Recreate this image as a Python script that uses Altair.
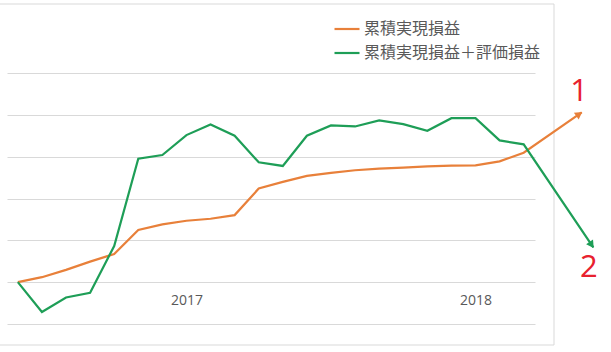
import altair as alt
import pandas as pd
import numpy as np

# ---- data ----
months = ["2016-06", "2016-07", "2016-08", "2016-09", "2016-10", "2016-11", "2016-12",
          "2017-01", "2017-02", "2017-03", "2017-04", "2017-05", "2017-06", "2017-07",
          "2017-08", "2017-09", "2017-10", "2017-11", "2017-12", "2018-01", "2018-02", "2018-03"]
realized = [0, 0.119, 0.294, 0.492, 0.675, 1.246, 1.381, 1.468, 1.516, 1.603, 2.238,
            2.397, 2.54, 2.611, 2.675, 2.714, 2.738, 2.77, 2.786, 2.794, 2.889, 3.095]
total = [0, -0.714, -0.365, -0.254, 0.865, 2.952, 3.04, 3.516, 3.77, 3.5, 2.865,
         2.778, 3.5, 3.746, 3.722, 3.865, 3.778, 3.619, 3.92, 3.92, 3.389, 3.294]
series_names = ["累積実現損益", "累積実現損益＋評価損益"]
series_colors = ["#E8803A", "#1E9E57"]
# arrow tips (continuation of each line beyond the last month), in month-index / value units
arrow_tip_x = [23.41, 23.89]
arrow_tip_y = [4.06, 0.83]
# callout numbers
callout_text = ["1", "2"]
callout_x = [23.3, 23.71]
callout_y = [4.54, 0.33]
year_ticks = [7, 19]
year_labels = ["2017", "2018"]

# ---- layout ----
W, H = 528, 251
XDOM = [-0.45, 21.47]
YDOM = [-1, 5]
px_x = W / (XDOM[1] - XDOM[0])
px_y = H / (YDOM[1] - YDOM[0])

rows = []
for name, vals, tx, ty in zip(series_names, [realized, total], arrow_tip_x, arrow_tip_y):
    for i, v in enumerate(vals):
        rows.append({"idx": i, "month": months[i], "value": v, "series": name})
    rows.append({"idx": tx, "month": "", "value": ty, "series": name})
df = pd.DataFrame(rows)

heads = []
for name, vals, tx, ty in zip(series_names, [realized, total], arrow_tip_x, arrow_tip_y):
    x0, y0 = len(vals) - 1, vals[-1]
    dx = (tx - x0) * px_x
    dy = -(ty - y0) * px_y
    L = np.hypot(dx, dy)
    ang = np.degrees(np.arctan2(dx, -dy)) % 360
    back = 3.0
    hx = tx - (dx / L * back) / px_x
    hy = ty + (dy / L * back) / px_y
    heads.append({"idx": hx, "value": hy, "series": name, "ang": float(ang)})
hdf = pd.DataFrame(heads)

cdf = pd.DataFrame({"idx": callout_x, "value": callout_y, "t": callout_text})

label_expr = " : ".join(
    [f"datum.value == {v} ? '{l}'" for v, l in zip(year_ticks, year_labels)]) + " : ''"

xenc = alt.X("idx:Q", scale=alt.Scale(domain=XDOM, nice=False, zero=False),
             axis=alt.Axis(values=year_ticks, labelExpr=label_expr, title=None,
                           grid=False, ticks=False, tickSize=0, domain=False,
                           offset=-px_y, labelPadding=11, labelFontSize=14,
                           labelColor="#595959", labelFont="Open Sans"))
yenc = alt.Y("value:Q", scale=alt.Scale(domain=YDOM, nice=False, zero=False),
             axis=alt.Axis(values=list(range(-1, 6)), labels=False, ticks=False,
                           domain=False, title=None, grid=True, gridColor="#D9D9D9",
                           gridWidth=1))
color = alt.Color("series:N", scale=alt.Scale(domain=series_names, range=series_colors),
                  legend=alt.Legend(title=None, orient="none", legendX=326, legendY=-58,
                                    symbolType="stroke", symbolSize=625,
                                    symbolStrokeWidth=2.2, labelFontSize=16,
                                    labelFont="Noto Sans CJK JP", labelColor="#595959",
                                    labelOffset=3, rowPadding=2, padding=0,
                                    labelLimit=400))

frame = alt.Chart(pd.DataFrame({"a": [0]})).mark_rect(
    fill=None, stroke="#D9D9D9", strokeWidth=1, clip=False).encode(
    x=alt.value(-10), x2=alt.value(547), y=alt.value(-69), y2=alt.value(272))

lines = alt.Chart(df).mark_line(strokeWidth=2.2, clip=False).encode(
    x=xenc, y=yenc, color=color, order="idx:Q")

arrowheads = alt.Chart(hdf).mark_point(shape="triangle-up", filled=True, size=70,
                                       opacity=1, clip=False).encode(
    x="idx:Q", y="value:Q",
    color=alt.Color("series:N", scale=alt.Scale(domain=series_names, range=series_colors),
                    legend=None),
    angle=alt.Angle("ang:Q", scale=None))

callouts = alt.Chart(cdf).mark_text(fontSize=31, color="#E8212E", font="Open Sans",
                                    fontWeight=500, align="center", baseline="middle",
                                    clip=False).encode(
    x="idx:Q", y="value:Q", text="t:N")

chart = alt.layer(frame, lines, arrowheads, callouts).properties(
    width=W, height=H,
    autosize=alt.AutoSizeParams(type="none"),
    padding={"left": 7, "top": 73, "right": 76, "bottom": 28},
).configure(background="white").configure_view(stroke=None)

chart.save("out.html", embed_options={"renderer": "svg", "actions": False})
